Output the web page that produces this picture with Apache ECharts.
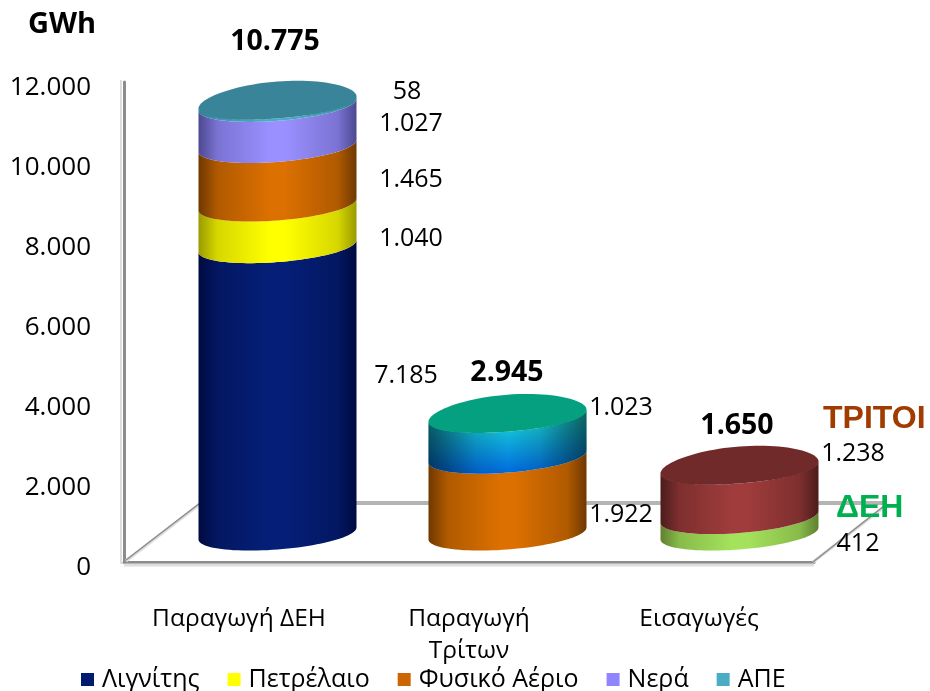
<!DOCTYPE html>
<html><head><meta charset="utf-8">
<style>html,body{margin:0;padding:0;background:#fff}#c{width:930px;height:691px}</style>
<script src="https://cdn.jsdelivr.net/npm/echarts@6/dist/echarts.min.js"></script>
</head><body><div id="c"></div>
<script>
const categories = ['Παραγωγή ΔΕΗ', 'Παραγωγή\nΤρίτων', 'Εισαγωγές'];
const lignite = [7185, null, null];
const oil = [1040, null, null];
const gas = [1465, 1922, null];
const hydro = [1027, null, null];
const res = [58, null, null];
const thirdRes = [null, 1023, null];
const importsDeh = [null, null, 412];
const importsThird = [null, null, 1238];
const totals = [10775, 2945, 1650];
const yTicks = [0, 2000, 4000, 6000, 8000, 10000, 12000];

const FONT = '"Open Sans", sans-serif';
const cylDx = [38.5, 38.5, 40.5], floorDy = 28.5, rx = 79, ry = 16, skew = 6, capRy = 18.5, capBulge = -2.5;
const fmt = v => String(v).replace(/\B(?=(\d{3})+$)/g, '.');

function arc(cx, cy, a0, a1, n, ryv, bulge) {
  const p = [], r = ryv === undefined ? ry : ryv, c = bulge || 0;
  for (let i = 0; i <= n; i++) {
    const t = (a0 + (a1 - a0) * i / n) * Math.PI / 180, s = Math.sin(t);
    p.push([cx + rx * Math.cos(t), cy + r * s + c * s * s - skew * Math.cos(t)]);
  }
  return p;
}
function mix(a, b, t) {
  const h = s => [1, 3, 5].map(i => parseInt(s.substr(i, 2), 16));
  const A = h(a), B = h(b);
  return 'rgb(' + A.map((v, i) => Math.round(v + (B[i] - v) * t)).join(',') + ')';
}
const hGrad = (edge, mid) => new echarts.graphic.LinearGradient(0, 0, 1, 0, [
  {offset: 0, color: edge}, {offset: 0.12, color: mix(edge, mid, 0.6)}, {offset: 0.45, color: mid},
  {offset: 0.55, color: mid}, {offset: 0.88, color: mix(edge, mid, 0.6)}, {offset: 1, color: edge}]);

const stackBase = [0, 0, 0];
function cylSeries(name, values, st) {
  const data = [];
  values.forEach((v, i) => {
    if (v == null) return;
    data.push([i, v, stackBase[i]]);
    stackBase[i] += v;
  });
  return {
    type: 'custom', name, coordinateSystem: 'cartesian2d', clip: false, silent: true,
    itemStyle: {color: st.legend}, z: 3,
    encode: {x: 0, y: 1},
    data,
    renderItem(params, api) {
      const i = api.value(0), v = api.value(1), b = api.value(2);
      const p0 = api.coord([i, b]), p1 = api.coord([i, b + v]);
      const cx = p0[0] + cylDx[i], y0 = p0[1] - floorDy, y1 = p1[1] - floorDy;
      const pts = arc(cx, y0, 180, 0, 48).concat(arc(cx, y1, 0, 180, 48));
      const children = [];
      children.push({type: 'polygon', shape: {points: pts},
        style: {fill: st.vertical ? new echarts.graphic.LinearGradient(0, 0, 0, 1, st.vertical)
                                  : hGrad(st.edge, st.mid)}});
      if (st.vertical) children.push({type: 'polygon', shape: {points: pts},
        style: {fill: new echarts.graphic.LinearGradient(0, 0, 1, 0, [
          {offset: 0, color: 'rgba(0,0,0,0.55)'}, {offset: 0.3, color: 'rgba(0,0,0,0.12)'},
          {offset: 0.5, color: 'rgba(0,0,0,0)'}, {offset: 0.7, color: 'rgba(0,0,0,0.12)'},
          {offset: 1, color: 'rgba(0,0,0,0.55)'}])}});
      if (b + v === totals[i]) children.push({type: 'polygon',
        shape: {points: arc(cx, y1, 0, 360, 96, capRy, capBulge)}, style: {fill: st.cap}});
      return {type: 'group', children};
    }
  };
}

const series = [
  {type: 'custom', name: 'frame', silent: true, clip: false, z: 1, data: [[0, 0]], encode: {x: 0, y: 1},
   renderItem(params, api) {
     const o = api.coord([0, 0]), h = api.size([1, 0]);
     const L = o[0] - h[0] / 2, Y = o[1], R = L + h[0] * 3;
     const T = api.coord([0, 12000])[1];
     const line = (x1, y1, x2, y2, c, w) => ({type: 'line', shape: {x1, y1, x2, y2}, style: {stroke: c, lineWidth: w}});
     return {type: 'group', children: [
       line(L - 3, T - 2, L - 3, Y + 2, '#dedede', 2),
       line(L, Y + 3, R, Y + 3, '#dedede', 3),
       line(L + 75, Y - 59, R + 70, Y - 59, '#b4b4b4', 4),
       line(L + 2, Y - 1, L + 76, Y - 58, '#dcdcdc', 3),
       line(L + 2, Y - 2, L + 76, Y - 59, '#8c8c8c', 1.5),
       line(R - 1, Y, R + 70, Y - 55, '#dcdcdc', 3),
       line(R - 1, Y, R + 70, Y - 56, '#8c8c8c', 1.5)
     ]};
   }},
  cylSeries('Λιγνίτης', lignite, {legend: '#001a70', edge: '#000a40', mid: '#051f78'}),
  cylSeries('Πετρέλαιο', oil, {legend: '#ffff00', edge: '#9a9a00', mid: '#ffff00'}),
  cylSeries('Φυσικό Αέριο', gas, {legend: '#cc6600', edge: '#6e3800', mid: '#dc7000'}),
  cylSeries('Νερά', hydro, {legend: '#9184ff', edge: '#4c4890', mid: '#9a90ff'}),
  cylSeries('ΑΠΕ', res, {legend: '#4bacc6', edge: '#2c7a90', mid: '#4bacc6', cap: '#3a8499'}),
  cylSeries('Τρίτοι ΑΠΕ', thirdRes, {legend: '#05a080', cap: '#05a080',
    vertical: [{offset: 0, color: '#1ce8d8'}, {offset: 1, color: '#0068e0'}]}),
  cylSeries('ΔΕΗ', importsDeh, {legend: '#a4e25c', edge: '#5f8030', mid: '#a4e25c'}),
  cylSeries('ΤΡΙΤΟΙ', importsThird, {legend: '#a03c3c', edge: '#4c1c1c', mid: '#a03c3c', cap: '#702a2a'})
];

// label nudges from the stack-segment midpoint, in pixels
const segLabels = [
  [lignite, 0, 167, -42], [oil, 0, 172, -15], [gas, 0, 172, -24], [hydro, 0, 172, -30], [res, 0, 168, -40],
  [gas, 1, 152, -9], [thirdRes, 1, 152, -57], [importsDeh, 2, 159, -10], [importsThird, 2, 154, -67]
];
function midOf(arr, cat) {
  const order = [lignite, oil, gas, hydro, res, thirdRes, importsDeh, importsThird];
  let b = 0;
  for (const a of order) { if (a === arr) break; b += a[cat] || 0; }
  return b + arr[cat] / 2;
}
series.push({type: 'custom', name: 'labels', silent: true, clip: false, z: 6, encode: {x: 0, y: 1},
  data: segLabels.map(([arr, cat, dx, dy]) => [cat, midOf(arr, cat), arr[cat], dx, dy]),
  renderItem(params, api) {
    const p = api.coord([api.value(0), api.value(1)]);
    return {type: 'text', style: {text: fmt(api.value(2)), x: p[0] + api.value(3), y: p[1] + api.value(4),
      fontSize: 25, fontFamily: FONT, fill: '#000', align: 'center', verticalAlign: 'middle'}};
  }});
const totalDx = [36, 38, 38], totalDy = [-89, -71, -70];
series.push({type: 'custom', name: 'totals', silent: true, clip: false, z: 6, encode: {x: 0, y: 1},
  data: totals.map((v, i) => [i, v]),
  renderItem(params, api) {
    const i = api.value(0), v = api.value(1), p = api.coord([i, v]);
    return {type: 'text', style: {text: fmt(v), x: p[0] + totalDx[i], y: p[1] + totalDy[i],
      fontSize: 28.5, fontWeight: 'bold', fontFamily: FONT, fill: '#000', align: 'center', verticalAlign: 'middle'}};
  }});

const chart = echarts.init(document.getElementById('c'), null, {renderer: 'canvas'});
chart.setOption({
  animation: false,
  backgroundColor: '#fff',
  grid: {left: 124, right: 116, top: 82, bottom: 129, containLabel: false},
  xAxis: {type: 'category', data: categories, axisTick: {show: false},
    axisLine: {show: true, lineStyle: {color: '#8c8c8c', width: 3}},
    axisLabel: {margin: 41, fontSize: 24.5, fontFamily: FONT, color: '#000', lineHeight: 32, interval: 0}},
  yAxis: {type: 'value', min: yTicks[0], max: yTicks[yTicks.length - 1], interval: yTicks[1],
    splitLine: {show: false}, axisTick: {show: false},
    axisLine: {show: true, lineStyle: {color: '#8c8c8c', width: 3}},
    axisLabel: {margin: 33, fontSize: 26, fontFamily: FONT, color: '#000', verticalAlign: 'top', lineHeight: 12,
      formatter: v => fmt(v)}},
  legend: {left: 76, top: 662, itemWidth: 13, itemHeight: 13, itemGap: 28, icon: 'rect',
    data: ['Λιγνίτης', 'Πετρέλαιο', 'Φυσικό Αέριο', 'Νερά', 'ΑΠΕ'],
    textStyle: {fontSize: 25, fontFamily: FONT, color: '#000', padding: [0, 0, 0, 3]}},
  graphic: [
    {type: 'text', left: 28, top: 10, style: {text: 'GWh', fontSize: 29, fontWeight: 'bold', fontFamily: FONT, fill: '#000'}},
    {type: 'text', left: 823, top: 403, z: 10, style: {text: 'ΤΡΙΤΟΙ', fontSize: 32, fontWeight: 'bold', fontFamily: '"Liberation Sans", sans-serif', fill: '#a03c00'}},
    {type: 'text', left: 836, top: 492, z: 10, style: {text: 'ΔΕΗ', fontSize: 32, fontWeight: 'bold', fontFamily: '"Liberation Sans", sans-serif', fill: '#00b050'}}
  ],
  series
});
</script></body></html>
